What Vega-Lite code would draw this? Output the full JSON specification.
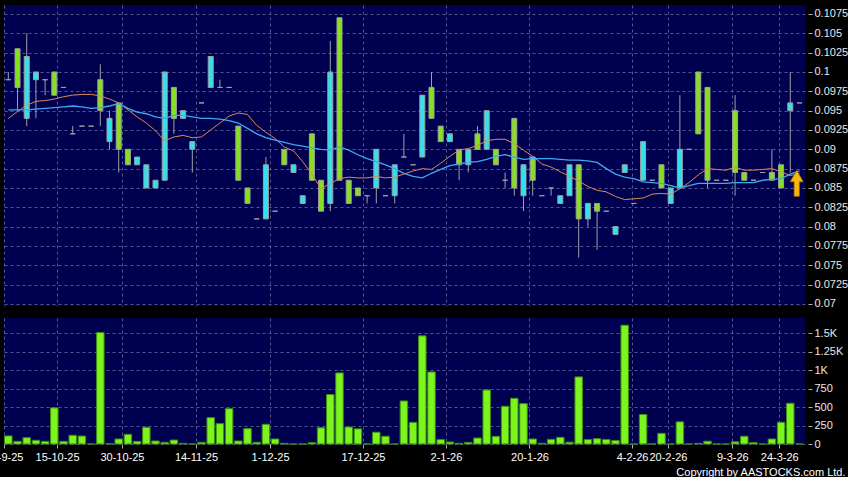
{
  "$schema": "https://vega.github.io/schema/vega-lite/v6.json",
  "background": "#000000",
  "padding": {"left": -15, "top": 5, "right": 0, "bottom": 0},
  "bounds": "flush",
  "spacing": 12,
  "config": {
    "view": {"fill": "#000050", "stroke": null},
    "axis": {
      "domain": false,
      "title": null,
      "labelOverlap": false,
      "labelFlush": false,
      "tickCount": 40,
      "gridColor": "#55558f",
      "gridDash": [3, 3],
      "gridWidth": 1,
      "gridOpacity": 1,
      "tickColor": "#b0b0b0",
      "labelColor": "#e8e8e8",
      "labelFont": "Liberation Sans",
      "labelFontSize": 11
    }
  },
  "datasets": {
    "d": [
      {"i": 0, "o": 0.099, "h": 0.1, "l": 0.099, "c": 0.099, "v": 110, "a": 0.094, "b": 0.0951},
      {"i": 1, "o": 0.103, "h": 0.103, "l": 0.095, "c": 0.098, "v": 36, "a": 0.0949, "b": 0.0951},
      {"i": 2, "o": 0.094, "h": 0.105, "l": 0.093, "c": 0.102, "v": 86, "a": 0.0957, "b": 0.0951},
      {"i": 3, "o": 0.099, "h": 0.1, "l": 0.094, "c": 0.1, "v": 50, "a": 0.0962, "b": 0.0952},
      {"i": 4, "o": 0.099, "h": 0.099, "l": 0.097, "c": 0.099, "v": 36, "a": 0.0963, "b": 0.0953},
      {"i": 5, "o": 0.1, "h": 0.1, "l": 0.097, "c": 0.097, "v": 490, "a": 0.0965, "b": 0.0954},
      {"i": 6, "o": 0.098, "h": 0.098, "l": 0.098, "c": 0.098, "v": 36, "a": 0.0968, "b": 0.0955},
      {"i": 7, "o": 0.092, "h": 0.093, "l": 0.092, "c": 0.092, "v": 118, "a": 0.097, "b": 0.0956},
      {"i": 8, "o": 0.093, "h": 0.093, "l": 0.093, "c": 0.093, "v": 108, "a": 0.0971, "b": 0.0955},
      {"i": 9, "o": 0.093, "h": 0.093, "l": 0.093, "c": 0.093, "v": 0, "a": 0.0971, "b": 0.0953},
      {"i": 10, "o": 0.099, "h": 0.101, "l": 0.093, "c": 0.095, "v": 1510, "a": 0.0969, "b": 0.0954},
      {"i": 11, "o": 0.091, "h": 0.095, "l": 0.09, "c": 0.094, "v": 3, "a": 0.0965, "b": 0.0956},
      {"i": 12, "o": 0.096, "h": 0.096, "l": 0.087, "c": 0.09, "v": 68, "a": 0.096, "b": 0.0959},
      {"i": 13, "o": 0.09, "h": 0.09, "l": 0.088, "c": 0.088, "v": 131, "a": 0.0951, "b": 0.0953},
      {"i": 14, "o": 0.088, "h": 0.089, "l": 0.088, "c": 0.089, "v": 36, "a": 0.0942, "b": 0.0948},
      {"i": 15, "o": 0.085, "h": 0.088, "l": 0.085, "c": 0.088, "v": 226, "a": 0.0934, "b": 0.0946},
      {"i": 16, "o": 0.085, "h": 0.086, "l": 0.085, "c": 0.086, "v": 41, "a": 0.0924, "b": 0.0942},
      {"i": 17, "o": 0.086, "h": 0.1, "l": 0.086, "c": 0.1, "v": 23, "a": 0.0911, "b": 0.094},
      {"i": 18, "o": 0.098, "h": 0.098, "l": 0.092, "c": 0.094, "v": 54, "a": 0.0916, "b": 0.0944},
      {"i": 19, "o": 0.094, "h": 0.095, "l": 0.094, "c": 0.095, "v": 9, "a": 0.0918, "b": 0.0944},
      {"i": 20, "o": 0.09, "h": 0.091, "l": 0.087, "c": 0.091, "v": 0, "a": 0.0915, "b": 0.0942},
      {"i": 21, "o": 0.096, "h": 0.096, "l": 0.096, "c": 0.096, "v": 23, "a": 0.0916, "b": 0.094},
      {"i": 22, "o": 0.098, "h": 0.102, "l": 0.098, "c": 0.102, "v": 357, "a": 0.0925, "b": 0.094},
      {"i": 23, "o": 0.098, "h": 0.099, "l": 0.098, "c": 0.098, "v": 276, "a": 0.0934, "b": 0.0939},
      {"i": 24, "o": 0.098, "h": 0.098, "l": 0.098, "c": 0.098, "v": 479, "a": 0.0943, "b": 0.0937},
      {"i": 25, "o": 0.093, "h": 0.093, "l": 0.086, "c": 0.086, "v": 41, "a": 0.0947, "b": 0.0934},
      {"i": 26, "o": 0.085, "h": 0.085, "l": 0.083, "c": 0.083, "v": 208, "a": 0.0945, "b": 0.0927},
      {"i": 27, "o": 0.081, "h": 0.081, "l": 0.081, "c": 0.081, "v": 23, "a": 0.0931, "b": 0.092},
      {"i": 28, "o": 0.081, "h": 0.089, "l": 0.081, "c": 0.088, "v": 267, "a": 0.0922, "b": 0.0915},
      {"i": 29, "o": 0.082, "h": 0.082, "l": 0.082, "c": 0.082, "v": 68, "a": 0.0914, "b": 0.0912},
      {"i": 30, "o": 0.09, "h": 0.09, "l": 0.088, "c": 0.088, "v": 9, "a": 0.0903, "b": 0.0909},
      {"i": 31, "o": 0.087, "h": 0.088, "l": 0.087, "c": 0.088, "v": 0, "a": 0.0898, "b": 0.0906},
      {"i": 32, "o": 0.083, "h": 0.084, "l": 0.083, "c": 0.084, "v": 0, "a": 0.0884, "b": 0.0904},
      {"i": 33, "o": 0.092, "h": 0.092, "l": 0.086, "c": 0.086, "v": 18, "a": 0.0868, "b": 0.0902},
      {"i": 34, "o": 0.086, "h": 0.086, "l": 0.082, "c": 0.082, "v": 220, "a": 0.0849, "b": 0.09},
      {"i": 35, "o": 0.083, "h": 0.104, "l": 0.082, "c": 0.1, "v": 670, "a": 0.0856, "b": 0.0899},
      {"i": 36, "o": 0.107, "h": 0.107, "l": 0.086, "c": 0.086, "v": 963, "a": 0.0862, "b": 0.0903},
      {"i": 37, "o": 0.086, "h": 0.086, "l": 0.083, "c": 0.083, "v": 230, "a": 0.0864, "b": 0.0899},
      {"i": 38, "o": 0.085, "h": 0.085, "l": 0.084, "c": 0.084, "v": 205, "a": 0.0863, "b": 0.0893},
      {"i": 39, "o": 0.084, "h": 0.084, "l": 0.083, "c": 0.084, "v": 0, "a": 0.0863, "b": 0.0888},
      {"i": 40, "o": 0.085, "h": 0.09, "l": 0.083, "c": 0.09, "v": 160, "a": 0.0865, "b": 0.0884},
      {"i": 41, "o": 0.084, "h": 0.084, "l": 0.084, "c": 0.084, "v": 105, "a": 0.0863, "b": 0.088},
      {"i": 42, "o": 0.084, "h": 0.088, "l": 0.083, "c": 0.088, "v": 0, "a": 0.0864, "b": 0.0875},
      {"i": 43, "o": 0.089, "h": 0.092, "l": 0.089, "c": 0.089, "v": 583, "a": 0.0868, "b": 0.0869},
      {"i": 44, "o": 0.088, "h": 0.088, "l": 0.088, "c": 0.088, "v": 294, "a": 0.0872, "b": 0.0865},
      {"i": 45, "o": 0.089, "h": 0.097, "l": 0.089, "c": 0.097, "v": 1465, "a": 0.0875, "b": 0.0863},
      {"i": 46, "o": 0.098, "h": 0.1, "l": 0.094, "c": 0.094, "v": 976, "a": 0.0874, "b": 0.0869},
      {"i": 47, "o": 0.093, "h": 0.093, "l": 0.091, "c": 0.091, "v": 60, "a": 0.0882, "b": 0.0874},
      {"i": 48, "o": 0.091, "h": 0.092, "l": 0.091, "c": 0.092, "v": 27, "a": 0.0891, "b": 0.0879},
      {"i": 49, "o": 0.09, "h": 0.09, "l": 0.086, "c": 0.088, "v": 9, "a": 0.0899, "b": 0.0881},
      {"i": 50, "o": 0.088, "h": 0.09, "l": 0.087, "c": 0.09, "v": 22, "a": 0.0901, "b": 0.0883},
      {"i": 51, "o": 0.092, "h": 0.093, "l": 0.09, "c": 0.09, "v": 81, "a": 0.0905, "b": 0.0884},
      {"i": 52, "o": 0.09, "h": 0.095, "l": 0.09, "c": 0.095, "v": 732, "a": 0.0911, "b": 0.0887},
      {"i": 53, "o": 0.09, "h": 0.09, "l": 0.088, "c": 0.088, "v": 104, "a": 0.0913, "b": 0.0891},
      {"i": 54, "o": 0.086, "h": 0.087, "l": 0.085, "c": 0.086, "v": 511, "a": 0.0913, "b": 0.0893},
      {"i": 55, "o": 0.094, "h": 0.094, "l": 0.084, "c": 0.085, "v": 619, "a": 0.0907, "b": 0.089},
      {"i": 56, "o": 0.084, "h": 0.088, "l": 0.082, "c": 0.088, "v": 547, "a": 0.0899, "b": 0.0887},
      {"i": 57, "o": 0.089, "h": 0.089, "l": 0.084, "c": 0.086, "v": 68, "a": 0.0891, "b": 0.0888},
      {"i": 58, "o": 0.084, "h": 0.084, "l": 0.084, "c": 0.084, "v": 9, "a": 0.0881, "b": 0.0888},
      {"i": 59, "o": 0.085, "h": 0.085, "l": 0.084, "c": 0.085, "v": 63, "a": 0.0877, "b": 0.0888},
      {"i": 60, "o": 0.083, "h": 0.084, "l": 0.083, "c": 0.084, "v": 90, "a": 0.0871, "b": 0.0887},
      {"i": 61, "o": 0.084, "h": 0.088, "l": 0.084, "c": 0.088, "v": 25, "a": 0.0865, "b": 0.0886},
      {"i": 62, "o": 0.088, "h": 0.088, "l": 0.076, "c": 0.081, "v": 909, "a": 0.0859, "b": 0.0886},
      {"i": 63, "o": 0.081, "h": 0.083, "l": 0.08, "c": 0.083, "v": 60, "a": 0.0852, "b": 0.0885},
      {"i": 64, "o": 0.083, "h": 0.083, "l": 0.077, "c": 0.082, "v": 72, "a": 0.0847, "b": 0.0883},
      {"i": 65, "o": 0.082, "h": 0.082, "l": 0.082, "c": 0.082, "v": 62, "a": 0.0845, "b": 0.0875},
      {"i": 66, "o": 0.079, "h": 0.08, "l": 0.079, "c": 0.08, "v": 48, "a": 0.0839, "b": 0.0868},
      {"i": 67, "o": 0.087, "h": 0.088, "l": 0.087, "c": 0.088, "v": 1610, "a": 0.0835, "b": 0.0864},
      {"i": 68, "o": 0.083, "h": 0.083, "l": 0.083, "c": 0.083, "v": 0, "a": 0.0836, "b": 0.0862},
      {"i": 69, "o": 0.086, "h": 0.091, "l": 0.086, "c": 0.091, "v": 400, "a": 0.0837, "b": 0.0858},
      {"i": 70, "o": 0.086, "h": 0.086, "l": 0.086, "c": 0.086, "v": 0, "a": 0.0842, "b": 0.0857},
      {"i": 71, "o": 0.088, "h": 0.088, "l": 0.085, "c": 0.085, "v": 145, "a": 0.0843, "b": 0.0856},
      {"i": 72, "o": 0.083, "h": 0.085, "l": 0.083, "c": 0.085, "v": 0, "a": 0.0842, "b": 0.0853},
      {"i": 73, "o": 0.085, "h": 0.097, "l": 0.085, "c": 0.09, "v": 300, "a": 0.0849, "b": 0.085},
      {"i": 74, "o": 0.09, "h": 0.09, "l": 0.09, "c": 0.09, "v": 0, "a": 0.0857, "b": 0.0853},
      {"i": 75, "o": 0.1, "h": 0.1, "l": 0.092, "c": 0.092, "v": 9, "a": 0.0867, "b": 0.0856},
      {"i": 76, "o": 0.098, "h": 0.098, "l": 0.085, "c": 0.086, "v": 38, "a": 0.0875, "b": 0.0856},
      {"i": 77, "o": 0.086, "h": 0.086, "l": 0.086, "c": 0.086, "v": 0, "a": 0.0874, "b": 0.0856},
      {"i": 78, "o": 0.086, "h": 0.086, "l": 0.086, "c": 0.086, "v": 0, "a": 0.0873, "b": 0.0856},
      {"i": 79, "o": 0.095, "h": 0.097, "l": 0.084, "c": 0.087, "v": 30, "a": 0.0877, "b": 0.0857},
      {"i": 80, "o": 0.087, "h": 0.087, "l": 0.086, "c": 0.086, "v": 105, "a": 0.0873, "b": 0.0857},
      {"i": 81, "o": 0.086, "h": 0.086, "l": 0.086, "c": 0.086, "v": 20, "a": 0.0873, "b": 0.0857},
      {"i": 82, "o": 0.087, "h": 0.087, "l": 0.087, "c": 0.087, "v": 0, "a": 0.0874, "b": 0.086},
      {"i": 83, "o": 0.087, "h": 0.09, "l": 0.086, "c": 0.086, "v": 68, "a": 0.0875, "b": 0.0861},
      {"i": 84, "o": 0.088, "h": 0.088, "l": 0.085, "c": 0.085, "v": 295, "a": 0.0871, "b": 0.0862},
      {"i": 85, "o": 0.095, "h": 0.1, "l": 0.087, "c": 0.096, "v": 552, "a": 0.0866, "b": 0.0868},
      {"i": 86, "o": 0.096, "h": 0.096, "l": 0.096, "c": 0.096, "v": 0, "a": 0.0869, "b": 0.0872}
    ],
    "mk": [{"i": 85.7, "p": 0.0856}]
  },
  "vconcat": [
    {
      "width": 801,
      "height": 301,
      "data": {"name": "d"},
      "layer": [
        {
          "mark": {"type": "rule", "color": "#a0a0a0", "strokeWidth": 1},
          "encoding": {
            "x": {"field": "i", "type": "quantitative", "scale": {"domain": [-0.47, 86.6], "nice": false, "zero": false, "padding": 0},
                  "axis": {"values": [-0.47, 5.3, 12.35, 20.4, 28.45, 38.55, 47.57, 56.65, 67.8, 71.7, 78.7, 83.8], "tickCount": 40, "grid": true, "labels": false, "ticks": false}},
            "y": {"field": "l", "type": "quantitative", "scale": {"domain": [0.06974, 0.10866], "nice": false, "zero": false, "padding": 0},
                  "axis": {"orient": "right", "values": [0.07, 0.0725, 0.075, 0.0775, 0.08, 0.0825, 0.085, 0.0875, 0.09, 0.0925, 0.095, 0.0975, 0.1, 0.1025, 0.105, 0.1075],
                           "tickCount": 40, "labelExpr": "'' + datum.value", "labelOverlap": false, "labelFlush": false, "grid": true, "offset": 3, "tickSize": 4, "labelPadding": 2}},
            "y2": {"field": "h"}
          }
        },
        {
          "mark": {"type": "bar", "width": 5, "stroke": "#a0a0a0", "strokeWidth": 1},
          "encoding": {
            "x": {"field": "i", "type": "quantitative"},
            "y": {"field": "o", "type": "quantitative"},
            "y2": {"field": "c"},
            "fill": {"condition": {"test": "datum.c > datum.o", "value": "#30e2f0"}, "value": "#86e01e"}
          }
        },
        {
          "mark": {"type": "line", "color": "#e08a52", "strokeWidth": 1},
          "encoding": {
            "x": {"field": "i", "type": "quantitative"},
            "y": {"field": "a", "type": "quantitative"}
          }
        },
        {
          "mark": {"type": "line", "color": "#3fa8ee", "strokeWidth": 1.3},
          "encoding": {
            "x": {"field": "i", "type": "quantitative"},
            "y": {"field": "b", "type": "quantitative"}
          }
        },
        {
          "data": {"name": "mk"},
          "mark": {"type": "point", "shape": "M0,-1L0.5,-0.12L0.2,-0.12L0.2,1L-0.2,1L-0.2,-0.12L-0.5,-0.12Z", "size": 676, "filled": true, "fill": "#f7b90c", "stroke": "#a86e00", "strokeWidth": 0.8, "opacity": 1},
          "encoding": {
            "x": {"field": "i", "type": "quantitative"},
            "y": {"field": "p", "type": "quantitative"}
          }
        }
      ]
    },
    {
      "width": 801,
      "height": 126,
      "data": {"name": "d"},
      "mark": {"type": "bar", "width": 7.5, "fill": "#7cf41e", "stroke": "#3c8c10", "strokeWidth": 1},
      "encoding": {
        "x": {"field": "i", "type": "quantitative", "scale": {"domain": [-0.47, 86.6], "nice": false, "zero": false, "padding": 0},
              "axis": {"values": [-0.47, 5.3, 12.35, 20.4, 28.45, 38.55, 47.57, 56.65, 67.8, 71.7, 78.7, 83.8], "tickCount": 40, "grid": true, "tickSize": 4, "labelPadding": 3,
                       "labelColor": "#ffffff", "labelOverlap": false, "labelFlush": false,
                       "labelExpr": "datum.value == -0.47 ? '30-9-25' : datum.value == 5.3 ? '15-10-25' : datum.value == 12.35 ? '30-10-25' : datum.value == 20.4 ? '14-11-25' : datum.value == 28.45 ? '1-12-25' : datum.value == 38.55 ? '17-12-25' : datum.value == 47.57 ? '2-1-26' : datum.value == 56.65 ? '20-1-26' : datum.value == 67.8 ? '4-2-26' : datum.value == 71.7 ? '20-2-26' : datum.value == 78.7 ? '9-3-26' : '24-3-26'",
                       "title": "Copyright by AASTOCKS.com Ltd.", "titleX": 841, "titleY": 28, "titleAlign": "right", "titleBaseline": "middle",
                       "titleFont": "Liberation Sans", "titleFontSize": 11, "titleFontWeight": "normal", "titleColor": "#ffffff"}},
        "y": {"field": "v", "type": "quantitative", "scale": {"domain": [0, 1707], "nice": false, "padding": 0},
              "axis": {"orient": "right", "values": [0, 250, 500, 750, 1000, 1250, 1500], "tickCount": 40, "grid": true, "offset": 3, "tickSize": 4, "labelPadding": 2, "labelOverlap": false, "labelFlush": false,
                       "labelExpr": "datum.value >= 1000 ? (datum.value / 1000) + 'K' : '' + datum.value"}}
      }
    }
  ]
}
